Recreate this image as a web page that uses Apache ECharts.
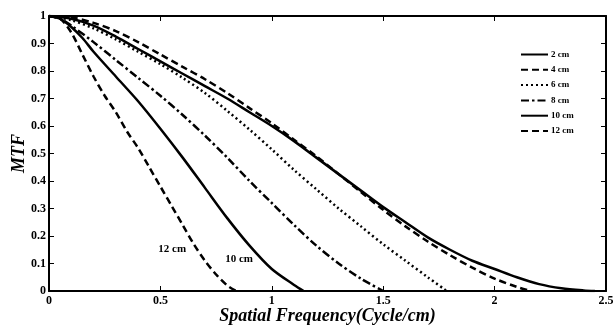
<!DOCTYPE html>
<html>
<head>
<meta charset="utf-8">
<script src="https://cdn.jsdelivr.net/npm/echarts@6/dist/echarts.min.js"></script>
<style>
  html, body { margin: 0; padding: 0; background: #fff; }
  #main { width: 613px; height: 327px; }
</style>
</head>
<body>
<div id="main"></div>
<script>
// values
var x2 = [0, 0.1, 0.2, 0.3, 0.4, 0.5, 0.6, 0.7, 0.8, 0.9, 1.0, 1.1, 1.2, 1.3, 1.4, 1.5, 1.6, 1.7, 1.8, 1.9, 2.0, 2.1, 2.2, 2.3, 2.4, 2.45]
var y2 = [1, 0.99, 0.965, 0.925, 0.88, 0.835, 0.79, 0.745, 0.70, 0.65, 0.60, 0.545, 0.485, 0.425, 0.365, 0.305, 0.25, 0.195, 0.15, 0.11, 0.08, 0.05, 0.025, 0.01, 0.002, 0]

var x4 = [0, 0.1, 0.2, 0.3, 0.4, 0.5, 0.6, 0.7, 0.8, 0.9, 1.0, 1.1, 1.2, 1.3, 1.4, 1.5, 1.6, 1.7, 1.8, 1.9, 2.0, 2.1, 2.16]
var y4 = [1, 0.995, 0.975, 0.945, 0.905, 0.86, 0.815, 0.77, 0.72, 0.665, 0.61, 0.55, 0.49, 0.425, 0.36, 0.295, 0.235, 0.18, 0.13, 0.085, 0.045, 0.015, 0]

var x6 = [0, 0.1, 0.2, 0.3, 0.4, 0.5, 0.6, 0.7, 0.8, 0.9, 1.0, 1.1, 1.2, 1.3, 1.4, 1.5, 1.6, 1.7, 1.785]
var y6 = [1, 0.985, 0.955, 0.915, 0.87, 0.825, 0.775, 0.72, 0.655, 0.587, 0.515, 0.44, 0.37, 0.30, 0.235, 0.17, 0.11, 0.05, 0]

var x8 = [0, 0.05, 0.1, 0.2, 0.3, 0.4, 0.5, 0.6, 0.7, 0.8, 0.9, 1.0, 1.1, 1.2, 1.3, 1.4, 1.5]
var y8 = [1, 0.99, 0.965, 0.905, 0.84, 0.775, 0.71, 0.64, 0.565, 0.485, 0.40, 0.32, 0.24, 0.165, 0.10, 0.045, 0]

var x10 = [0, 0.05, 0.1, 0.15, 0.2, 0.3, 0.4, 0.5, 0.6, 0.7, 0.8, 0.9, 1.0, 1.1, 1.143]
var y10 = [1, 0.99, 0.96, 0.92, 0.87, 0.78, 0.69, 0.59, 0.485, 0.375, 0.265, 0.165, 0.08, 0.022, 0]

var x12 = [0, 0.05, 0.1, 0.15, 0.2, 0.25, 0.3, 0.35, 0.4, 0.45, 0.5, 0.55, 0.6, 0.65, 0.7, 0.75, 0.8, 0.84]
var y12 = [1, 0.99, 0.94, 0.86, 0.78, 0.71, 0.65, 0.58, 0.52, 0.45, 0.38, 0.31, 0.24, 0.17, 0.11, 0.06, 0.02, 0]

var names = ['2 cm', '4 cm', '6 cm', '8 cm', '10 cm', '12 cm']
var xTicks = [0, 0.5, 1, 1.5, 2, 2.5]
var yTicks = [0, 0.1, 0.2, 0.3, 0.4, 0.5, 0.6, 0.7, 0.8, 0.9, 1]

var FONT = "'Liberation Serif', 'Times New Roman', serif"

function pairs(xs, ys) {
    var out = []
    for (var i = 0; i < xs.length; i++) out.push([xs[i], ys[i]])
    return out
}

function lineSeries(name, data, dash, label) {
    var s = {
        name: name,
        type: 'line',
        data: data,
        symbol: 'none',
        smooth: 0.3,
        xAxisIndex: 0,
        yAxisIndex: 0,
        lineStyle: { color: '#000', width: 2.5, type: dash, cap: 'butt' },
        itemStyle: { color: '#000' }
    }
    if (label) {
        // the curve name written next to the curve
        s.markPoint = {
            symbol: 'circle',
            symbolSize: 1,
            itemStyle: { color: 'rgba(0,0,0,0)' },
            label: {
                show: true, position: 'inside', formatter: name, color: '#000',
                fontFamily: FONT, fontWeight: 'bold', fontSize: 11
            },
            data: [{ coord: label }]
        }
    }
    return s
}

var chart = echarts.init(document.getElementById('main'))

var axisCommon = {
    type: 'value',
    axisLine: { show: true, onZero: false, lineStyle: { color: '#000', width: 2 } },
    axisTick: { show: true, inside: true, length: 5, lineStyle: { color: '#000', width: 1 } },
    splitLine: { show: false }
}

var option = {
    animation: false,
    backgroundColor: '#fff',
    grid: { left: 49, right: 7, top: 16, bottom: 36, outerBoundsMode: 'none', containLabel: false },
    legend: {
        orient: 'vertical',
        left: 520,
        top: 50,
        padding: 0,
        itemWidth: 27,
        itemHeight: 10,
        itemGap: 6.3,
        data: names,
        itemStyle: { opacity: 0 },
        textStyle: { fontFamily: FONT, fontWeight: 'bold', fontSize: 9, color: '#000', padding: [0, 0, 0, -2] }
    },
    xAxis: [
        Object.assign({}, axisCommon, {
            min: 0, max: 2.5, interval: 0.5,
            name: 'Spatial Frequency(Cycle/cm)',
            nameLocation: 'middle',
            nameGap: 16,
            nameMoveOverlap: false,
            nameTextStyle: { fontFamily: FONT, fontWeight: 'bold', fontStyle: 'italic', fontSize: 18, color: '#000' },
            axisLabel: {
                margin: 4, color: '#000', fontFamily: FONT, fontWeight: 'bold', fontSize: 12,
                formatter: function (v) { return xTicks.indexOf(v) >= 0 ? String(v) : '' }
            }
        }),
        Object.assign({}, axisCommon, {
            position: 'top', min: 0, max: 2.5, interval: 0.5,
            axisLabel: { show: false }
        })
    ],
    yAxis: [
        Object.assign({}, axisCommon, {
            min: 0, max: 1, interval: 0.1,
            name: 'MTF',
            nameLocation: 'middle',
            nameGap: 21,
            nameMoveOverlap: false,
            nameTextStyle: { fontFamily: FONT, fontWeight: 'bold', fontStyle: 'italic', fontSize: 18, color: '#000' },
            axisLabel: {
                margin: 3, color: '#000', fontFamily: FONT, fontWeight: 'bold', fontSize: 12,
                formatter: function (v) {
                    for (var i = 0; i < yTicks.length; i++) {
                        if (Math.abs(yTicks[i] - v) < 1e-6) return String(yTicks[i])
                    }
                    return ''
                }
            }
        }),
        Object.assign({}, axisCommon, {
            position: 'right', min: 0, max: 1, interval: 0.1,
            axisLabel: { show: false }
        })
    ],
    series: [
        lineSeries(names[0], pairs(x2, y2), 'solid'),
        lineSeries(names[1], pairs(x4, y4), [7, 4]),
        lineSeries(names[2], pairs(x6, y6), [2, 3]),
        lineSeries(names[3], pairs(x8, y8), [8, 3, 2.5, 3]),
        lineSeries(names[4], pairs(x10, y10), 'solid', [0.853, 0.116]),
        lineSeries(names[5], pairs(x12, y12), [7, 4], [0.553, 0.153])
    ]
}

option && chart.setOption(option)
</script>
</body>
</html>
